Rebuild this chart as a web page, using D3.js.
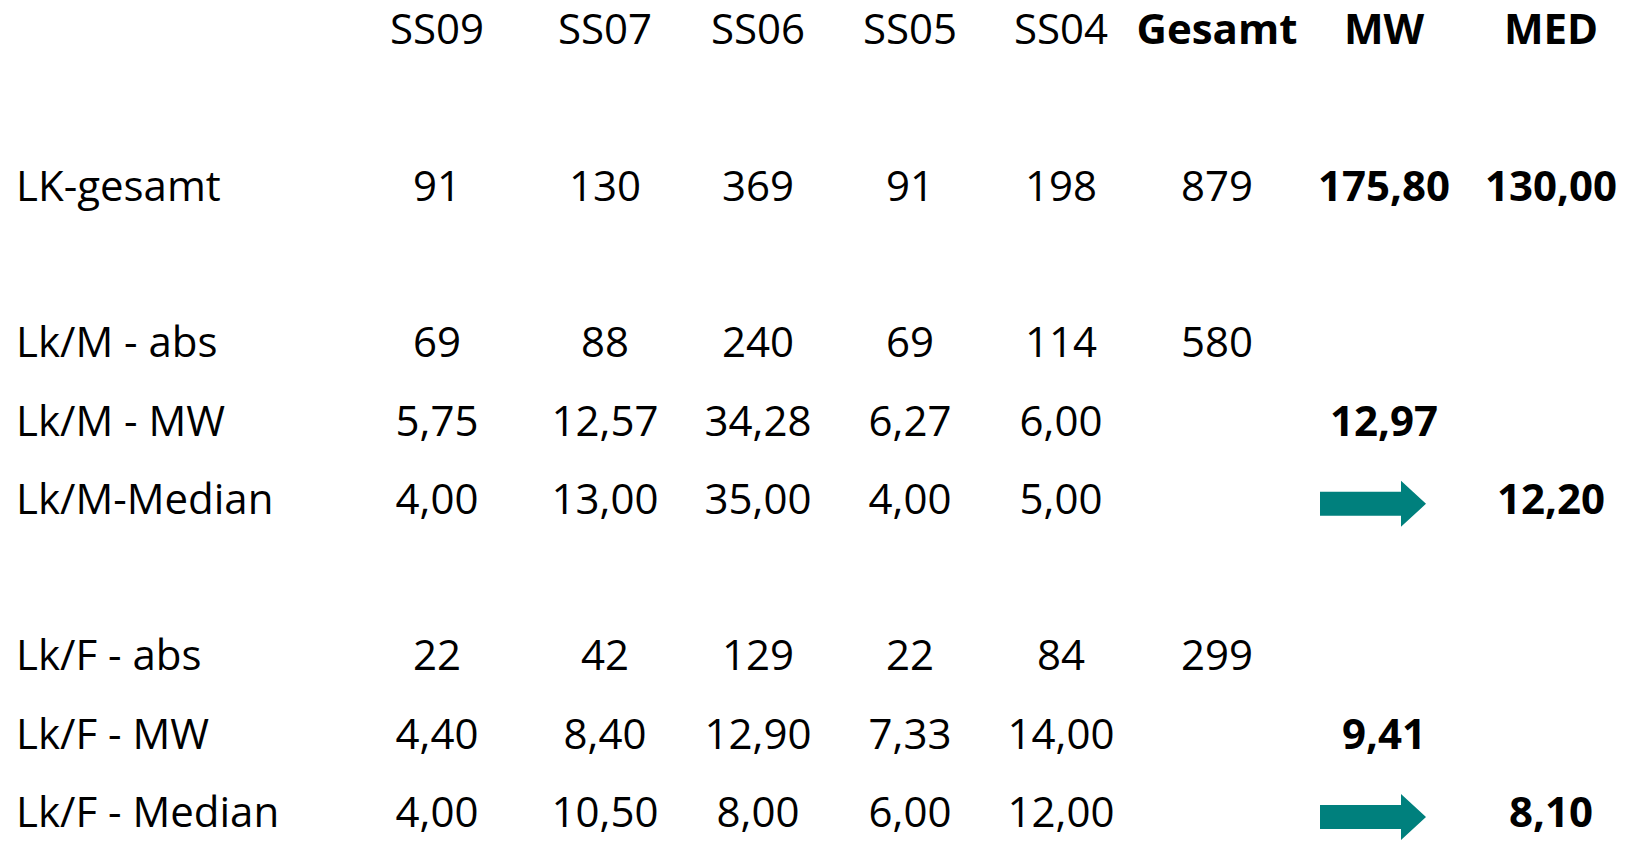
<!DOCTYPE html>
<html>
<head>
<meta charset="utf-8">
<script src="https://cdn.jsdelivr.net/npm/d3@7"></script>
<style>
  html, body { margin: 0; padding: 0; background: #fff; }
  svg text { font-family: 'Open Sans', sans-serif; fill: #000; }
</style>
</head>
<body>
<svg id="chart" width="1629" height="841"></svg>
<script>
// Spaltenköpfe
const semesters = ['SS09', 'SS07', 'SS06', 'SS05', 'SS04'];
const summaryHeads = ['Gesamt', 'MW', 'MED'];

// Zeilen (Werte je Semester)
const lkGesamt = [91, 130, 369, 91, 198];
const lkMAbs = [69, 88, 240, 69, 114];
const lkMMW = [5.75, 12.57, 34.28, 6.27, 6.0];
const lkMMedian = [4.0, 13.0, 35.0, 4.0, 5.0];
const lkFAbs = [22, 42, 129, 22, 84];
const lkFMW = [4.4, 8.4, 12.9, 7.33, 14.0];
const lkFMedian = [4.0, 10.5, 8.0, 6.0, 12.0];

// Summen / Mittelwerte / Mediane
const gesamtValues = { lkGesamt: 879, lkMAbs: 580, lkFAbs: 299 };
const mwValues = { lkGesamt: 175.8, lkMMW: 12.97, lkFMW: 9.41 };
const medValues = { lkGesamt: 130.0, lkMMedian: 12.2, lkFMedian: 8.1 };

const rows = [
  { key: 'lkGesamt', label: 'LK-gesamt', values: lkGesamt, int: true },
  { key: 'lkMAbs', label: 'Lk/M - abs', values: lkMAbs, int: true },
  { key: 'lkMMW', label: 'Lk/M - MW', values: lkMMW },
  { key: 'lkMMedian', label: 'Lk/M-Median', values: lkMMedian, arrow: true },
  { key: 'lkFAbs', label: 'Lk/F - abs', values: lkFAbs, int: true },
  { key: 'lkFMW', label: 'Lk/F - MW', values: lkFMW },
  { key: 'lkFMedian', label: 'Lk/F - Median', values: lkFMedian, arrow: true }
];
// Zeilenraster: Kopf in Slot 0, Leerzeilen dazwischen
const rowSlots = [2, 4, 5, 6, 8, 9, 10];

const locale = d3.formatLocale({ decimal: ',', thousands: '.', grouping: [3] });
const f2 = locale.format('.2f');
const f0 = locale.format('d');

const svg = d3.select('#chart');
const fontSize = 42;

const columns = semesters.concat(summaryHeads);
const x = d3.scaleOrdinal()
  .domain(columns)
  .range([437, 605, 758, 910, 1061, 1217, 1384, 1551]);
const y = d3.scaleLinear().domain([0, 10]).range([44, 827]);

// Kopfzeile
svg.append('g')
  .selectAll('text')
  .data(columns)
  .enter()
  .append('text')
  .attr('x', d => x(d))
  .attr('y', y(0))
  .attr('text-anchor', 'middle')
  .style('font-size', fontSize + 'px')
  .style('font-weight', d => (summaryHeads.includes(d) ? 700 : 400))
  .text(d => d);

const body = svg.append('g');

rows.forEach((r, i) => {
  const yy = y(rowSlots[i]);
  const fmt = r.int ? f0 : f2;

  body.append('text')
    .attr('x', 16)
    .attr('y', yy)
    .style('font-size', fontSize + 'px')
    .text(r.label);

  const cells = r.values.map((v, j) => ({ col: semesters[j], text: fmt(v), bold: false }));
  if (gesamtValues[r.key] != null) cells.push({ col: 'Gesamt', text: f0(gesamtValues[r.key]), bold: false });
  if (mwValues[r.key] != null) cells.push({ col: 'MW', text: f2(mwValues[r.key]), bold: true });
  if (medValues[r.key] != null) cells.push({ col: 'MED', text: f2(medValues[r.key]), bold: true });

  body.selectAll(null)
    .data(cells)
    .enter()
    .append('text')
    .attr('x', d => x(d.col))
    .attr('y', yy)
    .attr('text-anchor', 'middle')
    .style('font-size', fontSize + 'px')
    .style('font-weight', d => (d.bold ? 700 : 400))
    .text(d => d.text);

  // Pfeil MW -> MED
  if (r.arrow) {
    const x0 = x('MW') - 64;
    const len = 106;
    const head = 25;
    const cy = yy - 10;
    const sh = 12; // halbe Schaftbreite
    const hh = 23; // halbe Spitzenhöhe
    const p = d3.path();
    p.moveTo(x0, cy - sh);
    p.lineTo(x0 + len - head, cy - sh);
    p.lineTo(x0 + len - head, cy - hh);
    p.lineTo(x0 + len, cy);
    p.lineTo(x0 + len - head, cy + hh);
    p.lineTo(x0 + len - head, cy + sh);
    p.lineTo(x0, cy + sh);
    p.closePath();
    body.append('path')
      .attr('d', p.toString())
      .style('fill', '#00807d');
  }
});
</script>
</body>
</html>
